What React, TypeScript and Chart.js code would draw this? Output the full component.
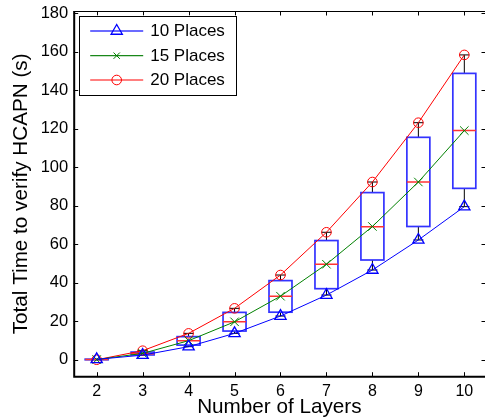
import { useEffect, useRef } from "react";
import { Chart, registerables } from "chart.js";
import { drawPoint } from "chart.js/helpers";

Chart.register(...registerables);

const layers = [2, 3, 4, 5, 6, 7, 8, 9, 10];
const places10 = [0.3, 2.5, 6.9, 13.8, 22.8, 33.7, 46.7, 62.3, 79.6];
const places15 = [0.2, 3.4, 10.0, 19.8, 33.1, 49.7, 69.3, 92.4, 119.1];
const places20 = [0.1, 4.8, 13.8, 26.8, 44.1, 66.3, 92.4, 123.2, 158.4];
const boxQ1 = [0.1, 2.6, 7.7, 15.0, 24.8, 37.0, 51.9, 69.3, 89.1];
const boxMedian = [0.2, 3.2, 10.0, 19.8, 33.1, 49.7, 69.2, 92.4, 119.1];
const boxQ3 = [0.4, 4.1, 12.1, 24.7, 41.2, 62.0, 86.9, 115.6, 148.8];
const xTicks = [2, 3, 4, 5, 6, 7, 8, 9, 10];
const yTicks = [0, 20, 40, 60, 80, 100, 120, 140, 160, 180];
const seriesLabels = ["10 Places", "15 Places", "20 Places"];
const xTitle = "Number of Layers";
const yTitle = "Total Time to verify HCAPN (s)";

const FONT = '"Liberation Sans", Arial, Helvetica, sans-serif';

const boxPlugin = {
  id: "boxes",
  beforeDatasetsDraw(chart: any) {
    const { ctx, chartArea, scales } = chart;
    const x = scales.x;
    const y = scales.y;
    ctx.save();
    ctx.beginPath();
    ctx.rect(chartArea.left, chartArea.top, chartArea.right - chartArea.left, chartArea.bottom - chartArea.top);
    ctx.clip();
    for (let i = 0; i < layers.length; i++) {
      const px = x.getPixelForValue(layers[i]);
      const hw = x.getPixelForValue(layers[i] + 0.25) - px;
      const cw = x.getPixelForValue(layers[i] + 0.11) - px;
      const yq1 = y.getPixelForValue(boxQ1[i]);
      const yq3 = y.getPixelForValue(boxQ3[i]);
      const ymed = y.getPixelForValue(boxMedian[i]);
      const ymax = y.getPixelForValue(places20[i]);
      const ymin = y.getPixelForValue(places10[i]);
      ctx.strokeStyle = "#000";
      ctx.lineWidth = 1;
      ctx.beginPath();
      ctx.moveTo(px, yq3);
      ctx.lineTo(px, ymax);
      ctx.moveTo(px, yq1);
      ctx.lineTo(px, ymin);
      ctx.moveTo(px - cw, ymax);
      ctx.lineTo(px + cw, ymax);
      ctx.moveTo(px - cw, ymin);
      ctx.lineTo(px + cw, ymin);
      ctx.stroke();
      ctx.strokeStyle = "#3333ff";
      ctx.lineWidth = 1.7;
      ctx.strokeRect(px - hw, yq3, hw * 2, yq1 - yq3);
      ctx.strokeStyle = "#ff3333";
      ctx.lineWidth = 1.5;
      ctx.beginPath();
      ctx.moveTo(px - hw, ymed);
      ctx.lineTo(px + hw, ymed);
      ctx.stroke();
    }
    ctx.restore();
  },
};

const framePlugin = {
  id: "frame",
  afterDraw(chart: any) {
    const { ctx, chartArea, scales } = chart;
    const { left, right, top, bottom } = chartArea;
    const x = scales.x;
    const y = scales.y;
    const tl = 4.5;
    ctx.save();
    ctx.strokeStyle = "#000";
    ctx.lineWidth = 1;
    ctx.beginPath();
    for (const v of xTicks) {
      const px = Math.round(x.getPixelForValue(v)) + 0.5;
      ctx.moveTo(px, bottom);
      ctx.lineTo(px, bottom - tl);
      ctx.moveTo(px, top);
      ctx.lineTo(px, top + tl);
    }
    for (const v of yTicks) {
      const py = Math.round(y.getPixelForValue(v)) + 0.5;
      ctx.moveTo(left, py);
      ctx.lineTo(left + tl, py);
      ctx.moveTo(right, py);
      ctx.lineTo(right - tl + 1, py);
    }
    ctx.moveTo(left, Math.round(top) + 0.5);
    ctx.lineTo(right, Math.round(top) + 0.5);
    ctx.stroke();
    ctx.lineWidth = 2;
    ctx.beginPath();
    ctx.moveTo(left + 0.5, top);
    ctx.lineTo(left + 0.5, bottom + 1);
    ctx.moveTo(left - 0.5, bottom);
    ctx.lineTo(right, bottom);
    ctx.stroke();

    // legend
    const lx = left + 5.5;
    const ly = top + 4.7;
    const lw = 157;
    const lh = 79.3;
    ctx.fillStyle = "#fff";
    ctx.fillRect(lx, ly, lw, lh);
    ctx.lineWidth = 1;
    ctx.strokeStyle = "#000";
    ctx.strokeRect(Math.round(lx) + 0.5, Math.round(ly) + 0.5, Math.round(lw), Math.round(lh));
    const rows = [31, 55.7, 80];
    chart.data.datasets.forEach((ds: any, i: number) => {
      const ry = rows[i];
      ctx.strokeStyle = ds.legendLineColor;
      ctx.lineWidth = ds.legendLineWidth;
      ctx.beginPath();
      ctx.moveTo(lx + 11, ry);
      ctx.lineTo(lx + 64, ry);
      ctx.stroke();
      ctx.strokeStyle = ds.pointBorderColor;
      ctx.fillStyle = "rgba(0,0,0,0)";
      ctx.lineWidth = ds.pointBorderWidth;
      drawPoint(ctx, { pointStyle: ds.pointStyle, radius: ds.legendPointRadius, rotation: 0, borderWidth: ds.pointBorderWidth }, lx + 37.5, ry);
      ctx.fillStyle = "#000";
      ctx.font = `17px ${FONT}`;
      ctx.textAlign = "left";
      ctx.textBaseline = "middle";
      ctx.fillText(ds.label, lx + 71, ry + 0.5);
    });
    ctx.restore();
  },
};

export default function App() {
  const ref = useRef<HTMLCanvasElement | null>(null);
  useEffect(() => {
    if (!ref.current) return;
    const mk = (vals: number[]) => layers.map((l, i) => ({ x: l, y: vals[i] }));
    const chart = new Chart(ref.current, {
      type: "line",
      data: {
        datasets: [
          {
            label: seriesLabels[0],
            data: mk(places10),
            borderColor: "#0000ff",
            borderWidth: 1,
            pointStyle: "triangle",
            pointRadius: 6.5,
            pointBorderColor: "#0000ff",
            pointBackgroundColor: "rgba(0,0,0,0)",
            pointBorderWidth: 1.3,
            legendLineColor: "#6b6bff",
            legendLineWidth: 2,
            legendPointRadius: 6.5,
          } as any,
          {
            label: seriesLabels[1],
            data: mk(places15),
            borderColor: "#008000",
            borderWidth: 1,
            pointStyle: "crossRot",
            pointRadius: 6,
            pointBorderColor: "#008000",
            pointBackgroundColor: "rgba(0,0,0,0)",
            pointBorderWidth: 1,
            legendLineColor: "#1a881a",
            legendLineWidth: 1.2,
            legendPointRadius: 4.5,
          } as any,
          {
            label: seriesLabels[2],
            data: mk(places20),
            borderColor: "#ff0000",
            borderWidth: 1,
            pointStyle: "circle",
            pointRadius: 4.8,
            pointBorderColor: "#ff0000",
            pointBackgroundColor: "rgba(0,0,0,0)",
            pointBorderWidth: 1,
            legendLineColor: "#ff5555",
            legendLineWidth: 1.6,
            legendPointRadius: 4.8,
          } as any,
        ],
      },
      options: {
        responsive: false,
        animation: false,
        layout: { autoPadding: false, padding: { top: 11, right: 0, left: 0, bottom: 0 } },
        plugins: { legend: { display: false }, tooltip: { enabled: false } },
        scales: {
          x: {
            type: "linear",
            min: 1.5,
            max: 10.45,
            afterBuildTicks: (s: any) => {
              s.ticks = xTicks.map((v) => ({ value: v }));
            },
            afterFit: (s: any) => {
              s.height = 43.3;
              s.paddingLeft = 0;
              s.paddingRight = 0;
            },
            grid: { display: false, drawTicks: false, tickLength: 0 },
            border: { display: false },
            ticks: {
              color: "#000",
              font: { family: FONT, size: 16 },
              padding: 5,
              autoSkip: false,
              maxRotation: 0,
            },
            title: {
              display: true,
              text: xTitle,
              color: "#000",
              font: { family: FONT, size: 20.7, lineHeight: 1.2 },
              padding: { top: 0, bottom: 0 },
            },
          },
          y: {
            type: "linear",
            min: -8.7,
            max: 181.2,
            afterBuildTicks: (s: any) => {
              s.ticks = yTicks.map((v) => ({ value: v }));
            },
            afterFit: (s: any) => {
              s.width = 73.7;
              s.paddingTop = 0;
              s.paddingBottom = 0;
            },
            grid: { display: false, drawTicks: false, tickLength: 0 },
            border: { display: false },
            ticks: {
              color: "#000",
              font: { family: FONT, size: 16.5 },
              padding: 5.5,
              autoSkip: false,
            },
            title: {
              display: true,
              text: yTitle,
              color: "#000",
              font: { family: FONT, size: 20.7, lineHeight: 1.2 },
              padding: { top: 8.4, bottom: 0 },
            },
          },
        },
      },
      plugins: [boxPlugin, framePlugin],
    });
    return () => chart.destroy();
  }, []);
  return (
    <div style={{ position: "absolute", left: 0, top: 0, width: 485, height: 420, background: "#fff" }}>
      <canvas ref={ref} width={485} height={420} style={{ display: "block" }} />
    </div>
  );
}
